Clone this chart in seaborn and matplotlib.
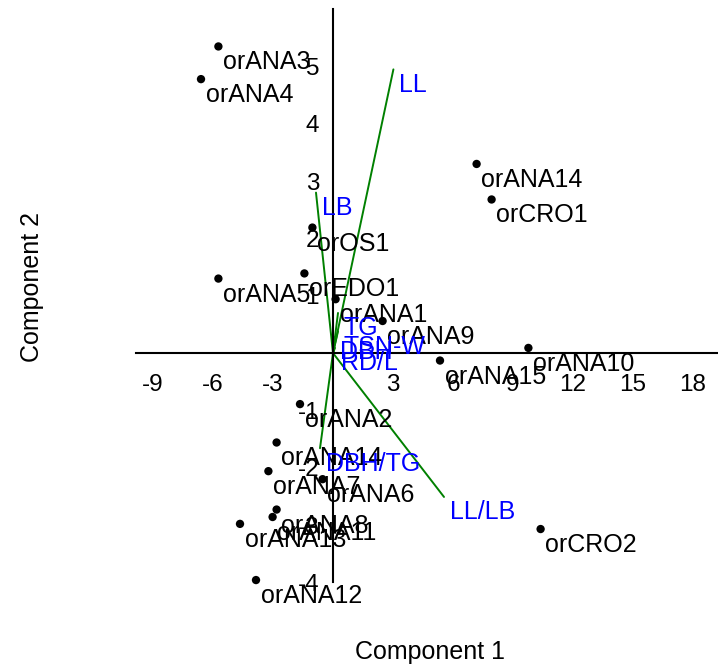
import numpy as np
import pandas as pd
import matplotlib
matplotlib.use("Agg")
import matplotlib.pyplot as plt
import seaborn as sns

# sample scores on component 1 / component 2
names = ["orANA3", "orANA4", "orANA14", "orCRO1", "orOS1", "orANA5", "orEDO1",
         "orANA1", "orANA9", "orANA10", "orANA15", "orANA2", "orANA14", "orANA7",
         "orANA6", "orANA8", "orANA11", "orANA13", "orANA12", "orCRO2"]
comp1 = [-5.73, -6.6, 7.18, 7.93, -1.03, -5.73, -1.43,
         0.13, 2.48, 9.77, 5.35, -1.65, -2.82, -3.23,
         -0.52, -2.82, -3.02, -4.65, -3.85, 10.38]
comp2 = [5.35, 4.78, 3.30, 2.68, 2.19, 1.30, 1.39,
         0.94, 0.56, 0.09, -0.13, -0.89, -1.56, -2.06,
         -2.20, -2.73, -2.86, -2.98, -3.96, -3.07]

# variable loadings (biplot vectors)
var_names = ["LL", "LB", "TG", "TSN-W", "DBH", "RD/L", "DBH/TG", "LL/LB"]
load1 = [3.02, -0.85, 0.25, 0.25, 0.05, 0.1, -0.65, 5.55]
load2 = [4.95, 2.80, 0.70, 0.38, 0.28, 0.09, -1.66, -2.51]

xticks = [-9, -6, -3, 3, 6, 9, 12, 15, 18]
yticks = [-4, -3, -2, -1, 1, 2, 3, 4, 5]

scores = pd.DataFrame({"name": names, "c1": comp1, "c2": comp2})

sns.set_style("white")
plt.rcParams["font.family"] = ["Liberation Sans", "DejaVu Sans"]

fig = plt.figure(figsize=(7.18, 6.67), dpi=100)
ax = fig.add_axes([133 / 718, (667 - 611) / 667, 585 / 718, (611 - 9.2) / 667])

# loading vectors
for vx, vy in zip(load1, load2):
    ax.plot([0, vx], [0, vy], color="#008000", lw=1.4, zorder=2)

sns.scatterplot(data=scores, x="c1", y="c2", color="black", s=36,
                edgecolor="none", ax=ax, zorder=3)

for n, x, y in zip(names, comp1, comp2):
    ax.annotate(n, (x, y), xytext=(3.5, -11.5), textcoords="offset points",
                ha="left", va="center", fontsize=18, color="black")
for n, x, y in zip(var_names, load1, load2):
    ax.annotate(n, (x, y), xytext=(4, -11), textcoords="offset points",
                ha="left", va="center", fontsize=18, color="#0000FF")

ax.set_xlim(-10, 19.25)
ax.set_ylim(-4.5, 6.0)
for s in ["top", "right"]:
    ax.spines[s].set_visible(False)
ax.spines["left"].set_position(("data", 0))
ax.spines["bottom"].set_position(("data", 0))
ax.spines["left"].set_bounds(-4, 6)
ax.spines["bottom"].set_bounds(-9.85, 19.25)
for s in ["left", "bottom"]:
    ax.spines[s].set_linewidth(1.5)
    ax.spines[s].set_color("black")

ax.set_xticks(xticks)
ax.set_yticks(yticks)
ax.set_xticklabels([str(t) for t in xticks])
ax.set_yticklabels([str(t) for t in yticks])
ax.tick_params(direction="out", length=6, width=1.5, labelsize=17.5,
               colors="black")
ax.tick_params(axis="x", pad=9)
ax.tick_params(axis="y", pad=4)
ax.set_xlabel("")
ax.set_ylabel("")

fig.text(0.599, 0.022, "Component 1", ha="center", va="center", fontsize=18,
         color="black")
fig.text(0.045, 0.57, "Component 2", ha="center", va="center", fontsize=18,
         rotation=90, color="black")

fig.savefig("out.png", dpi=100)
